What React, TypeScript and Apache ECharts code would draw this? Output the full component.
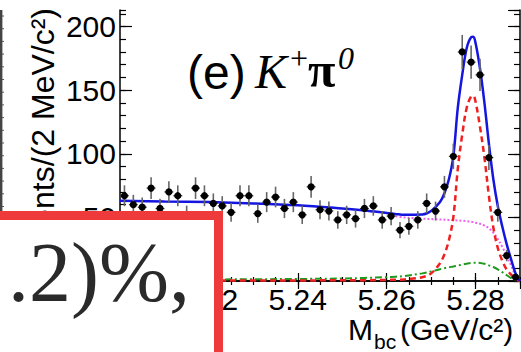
import React, { useEffect, useRef } from "react";
import * as echarts from "echarts";

// Data points: bin centres (GeV/c^2) and counts per 2 MeV/c^2
const binCenters = [
  5.201, 5.203, 5.205, 5.207, 5.209, 5.211, 5.213, 5.215, 5.217, 5.219,
  5.221, 5.223, 5.225, 5.227, 5.229, 5.231, 5.233, 5.235, 5.237, 5.239,
  5.241, 5.243, 5.245, 5.247, 5.249, 5.251, 5.253, 5.255, 5.257, 5.259,
  5.261, 5.263, 5.265, 5.267, 5.269, 5.271, 5.273, 5.275, 5.277, 5.279,
  5.281, 5.283, 5.285, 5.287, 5.289,
];
const counts = [
  67, 60, 58, 73, 57, 70, 67, 52, 73, 67,
  61, 59, 54, 67, 67, 53, 62, 66, 57, 62,
  52, 74, 56, 55, 48, 52, 49, 57, 59, 48,
  51, 40, 43, 48, 61, 55, 74, 98, 180, 172,
  162, 97, 54, 20, 3,
];

// Fit curves
const fitX = [
  5.200, 5.210, 5.220, 5.230, 5.240, 5.250, 5.255, 5.260,
  5.262, 5.264, 5.268, 5.270, 5.272, 5.273, 5.274, 5.275, 5.276, 5.277, 5.278, 5.279,
  5.2795, 5.280, 5.281, 5.282, 5.283, 5.284, 5.285, 5.286, 5.287, 5.288, 5.289, 5.290,
];
const fitTotal = [
  63, 62.5, 62, 61, 59.5, 57, 55.5, 53.5,
  52.7, 52, 52.2, 55, 62, 69, 80, 98, 136, 162, 183, 191.6,
  192, 187, 167, 140, 108, 80, 59, 43, 29, 17, 6, 0,
];
const fitSignal = [
  0.3, 0.3, 0.35, 0.4, 0.45, 0.55, 0.65, 0.8,
  1.0, 1.2, 3, 6, 14, 21, 32, 50, 88, 115, 136, 145,
  145.5, 141, 121, 97, 67, 42, 26, 16, 9, 5, 1.5, 0,
];
const fitBackground = [
  null, null, null, null, null, null, null, null,
  50.8, 50.0, 49.0, 48.7, 48.4, 48.2, 48, 47.8, 47.6, 47.4, 47, 46.6,
  46.3, 45.8, 45, 43.5, 41.5, 38, 33, 27, 20, 12, 4.5, 0,
];
const fitPeaking = [
  1, 1.1, 1.2, 1.4, 1.6, 2.0, 2.4, 3,
  3.4, 3.9, 6, 7.5, 9.3, 10.1, 10.8, 11.4, 12.1, 12.9, 13.6, 14.2,
  14.3, 14.4, 14.2, 13.5, 12.3, 11, 9.2, 7, 4.6, 2.3, 0.6, 0,
];

const X_MIN = 5.2;
const X_MAX = 5.29;
const Y_MIN = 0;
const Y_MAX = 213;

const FONT = "'Liberation Sans', Arial, Helvetica, sans-serif";
const SERIF = "'Liberation Serif', 'Times New Roman', serif";

function pairs(xs: number[], ys: (number | null)[]) {
  const out: number[][] = [];
  xs.forEach((x, i) => {
    const y = ys[i];
    if (y !== null && y !== undefined) out.push([x, y]);
  });
  return out;
}

function xAxisDef(position: "top" | "bottom", interval: number, len: number, labels: boolean, line: boolean) {
  return {
    type: "value",
    position,
    min: X_MIN,
    max: X_MAX,
    interval,
    axisLine: { show: line, lineStyle: { color: "#000", width: 1.5 } },
    axisTick: { show: true, inside: true, length: len, lineStyle: { color: "#000", width: 1.2 } },
    axisLabel: {
      show: labels,
      showMinLabel: false,
      showMaxLabel: false,
      margin: 3,
      color: "#000",
      fontSize: 30,
      fontFamily: FONT,
      formatter: (v: number) => v.toFixed(2),
    },
    splitLine: { show: false },
  };
}

function yAxisDef(position: "left" | "right", interval: number, len: number, labels: boolean, line: boolean) {
  return {
    type: "value",
    position,
    min: Y_MIN,
    max: Y_MAX,
    interval,
    axisLine: { show: line, lineStyle: { color: "#000", width: 1.5 } },
    axisTick: { show: true, inside: true, length: len, lineStyle: { color: "#000", width: 1.2 } },
    axisLabel: {
      show: labels,
      showMinLabel: false,
      showMaxLabel: false,
      margin: 4,
      color: "#000",
      fontSize: 30,
      fontFamily: FONT,
    },
    splitLine: { show: false },
  };
}

export default function App() {
  const ref = useRef<HTMLDivElement>(null);

  useEffect(() => {
    if (!ref.current) return;
    const chart = echarts.init(ref.current, null, { renderer: "svg" });

    const pointData = binCenters.map((x, i) => [x, counts[i], Math.sqrt(counts[i])]);

    const leftTicks: any[] = [];
    for (let y = 16; y < 212; y += 12.7) {
      leftTicks.push({
        type: "line",
        shape: { x1: 2, y1: y, x2: 4, y2: y },
        style: { stroke: "#555", lineWidth: 1 },
        z: 50,
      });
    }

    const option: any = {
      animation: false,
      backgroundColor: "#fff",
      grid: { left: 120, top: 10, width: 400, height: 271, show: false },
      xAxis: [
        xAxisDef("bottom", 0.02, 8, true, true),
        xAxisDef("bottom", 0.005, 4, false, false),
        xAxisDef("top", 0.02, 8, false, true),
        xAxisDef("top", 0.005, 4, false, false),
      ],
      yAxis: [
        yAxisDef("left", 50, 12, true, true),
        yAxisDef("left", 10, 6, false, false),
        yAxisDef("right", 50, 12, false, true),
        yAxisDef("right", 10, 6, false, false),
      ],
      series: [
        {
          type: "line",
          name: "peaking",
          data: pairs(fitX, fitPeaking),
          showSymbol: false,
          smooth: 0.35,
          lineStyle: { color: "#1f9a1f", width: 2, type: [7, 3, 2, 3] },
          z: 3,
        },
        {
          type: "line",
          name: "background",
          data: pairs(fitX, fitBackground),
          showSymbol: false,
          smooth: 0.35,
          lineStyle: { color: "#f060f0", width: 2, type: [2, 2] },
          z: 3,
        },
        {
          type: "line",
          name: "signal",
          data: pairs(fitX, fitSignal),
          showSymbol: false,
          smooth: 0.35,
          lineStyle: { color: "#f02020", width: 2.5, type: [6, 4] },
          z: 4,
        },
        {
          type: "line",
          name: "total",
          data: pairs(fitX, fitTotal),
          showSymbol: false,
          smooth: 0.35,
          lineStyle: { color: "#1515e0", width: 2.5 },
          z: 5,
        },
        {
          type: "custom",
          name: "data",
          data: pointData,
          encode: { x: 0, y: 1 },
          z: 6,
          renderItem: (params: any, api: any) => {
            const x = api.value(0);
            const y = api.value(1);
            const e = api.value(2);
            const p = api.coord([x, y]);
            const t = api.coord([x, y + e]);
            const b = api.coord([x, Math.max(y - e, 0)]);
            const l = api.coord([x - 0.001, y]);
            const r = api.coord([x + 0.001, y]);
            return {
              type: "group",
              children: [
                { type: "line", shape: { x1: p[0], y1: t[1], x2: p[0], y2: b[1] }, style: { stroke: "#666", lineWidth: 1.6 } },
                { type: "line", shape: { x1: l[0], y1: p[1], x2: r[0], y2: p[1] }, style: { stroke: "#333", lineWidth: 1.2 } },
                { type: "circle", shape: { cx: p[0], cy: p[1], r: 3.6 }, style: { fill: "#000" } },
              ],
            };
          },
        },
      ],
      graphic: [
        {
          type: "text",
          x: 43,
          y: 8,
          rotation: Math.PI / 2,
          z: 10,
          style: {
            text: "Events/(2 MeV/c\u00B2)",
            fontSize: 32,
            fontFamily: FONT,
            fill: "#000",
            align: "right",
            verticalAlign: "middle",
          },
        },
        {
          type: "text",
          x: 187,
          y: 72,
          z: 10,
          style: { text: "(e)", fontSize: 48, fontFamily: FONT, fill: "#000", align: "left", verticalAlign: "middle" },
        },
        {
          type: "text",
          x: 255,
          y: 71,
          z: 10,
          style: { text: "K", fontSize: 48, fontFamily: SERIF, fontStyle: "italic", fill: "#000", align: "left", verticalAlign: "middle" },
        },
        {
          type: "text",
          x: 290,
          y: 58,
          z: 10,
          style: { text: "+", fontSize: 32, fontFamily: SERIF, fill: "#000", align: "left", verticalAlign: "middle" },
        },
        {
          type: "text",
          x: 308,
          y: 70,
          z: 10,
          style: { text: "\u03C0", fontSize: 50, fontFamily: SERIF, fontWeight: "bold", fill: "#000", align: "left", verticalAlign: "middle" },
        },
        {
          type: "text",
          x: 338,
          y: 58,
          z: 10,
          style: { text: "0", fontSize: 32, fontFamily: SERIF, fontStyle: "italic", fill: "#000", align: "left", verticalAlign: "middle" },
        },
        {
          type: "text",
          x: 348,
          y: 329,
          z: 10,
          style: { text: "M", fontSize: 30, fontFamily: FONT, fill: "#000", align: "left", verticalAlign: "middle" },
        },
        {
          type: "text",
          x: 374,
          y: 341,
          z: 10,
          style: { text: "bc", fontSize: 21, fontFamily: FONT, fill: "#000", align: "left", verticalAlign: "middle" },
        },
        {
          type: "text",
          x: 400,
          y: 329,
          z: 10,
          style: { text: "(GeV/c\u00B2)", fontSize: 30, fontFamily: FONT, fill: "#000", align: "left", verticalAlign: "middle" },
        },
        {
          type: "line",
          z: 50,
          shape: { x1: 1.2, y1: 10, x2: 1.2, y2: 215 },
          style: { stroke: "#444", lineWidth: 2.4 },
        },
        ...leftTicks,
        {
          type: "rect",
          z: 100,
          shape: { x: -20, y: 215.5, width: 238.5, height: 170 },
          style: { fill: "#fff", stroke: "#ee3a3a", lineWidth: 9 },
        },
        {
          type: "text",
          x: 8,
          y: 272,
          z: 101,
          style: { text: ".2)%,", fontSize: 84, fontFamily: SERIF, fill: "#2a2a2a", align: "left", verticalAlign: "middle" },
        },
      ],
    };

    chart.setOption(option);
    return () => chart.dispose();
  }, []);

  return (
    <div
      ref={ref}
      style={{ position: "fixed", left: 0, top: 0, width: 521, height: 352, background: "#fff" }}
    />
  );
}
